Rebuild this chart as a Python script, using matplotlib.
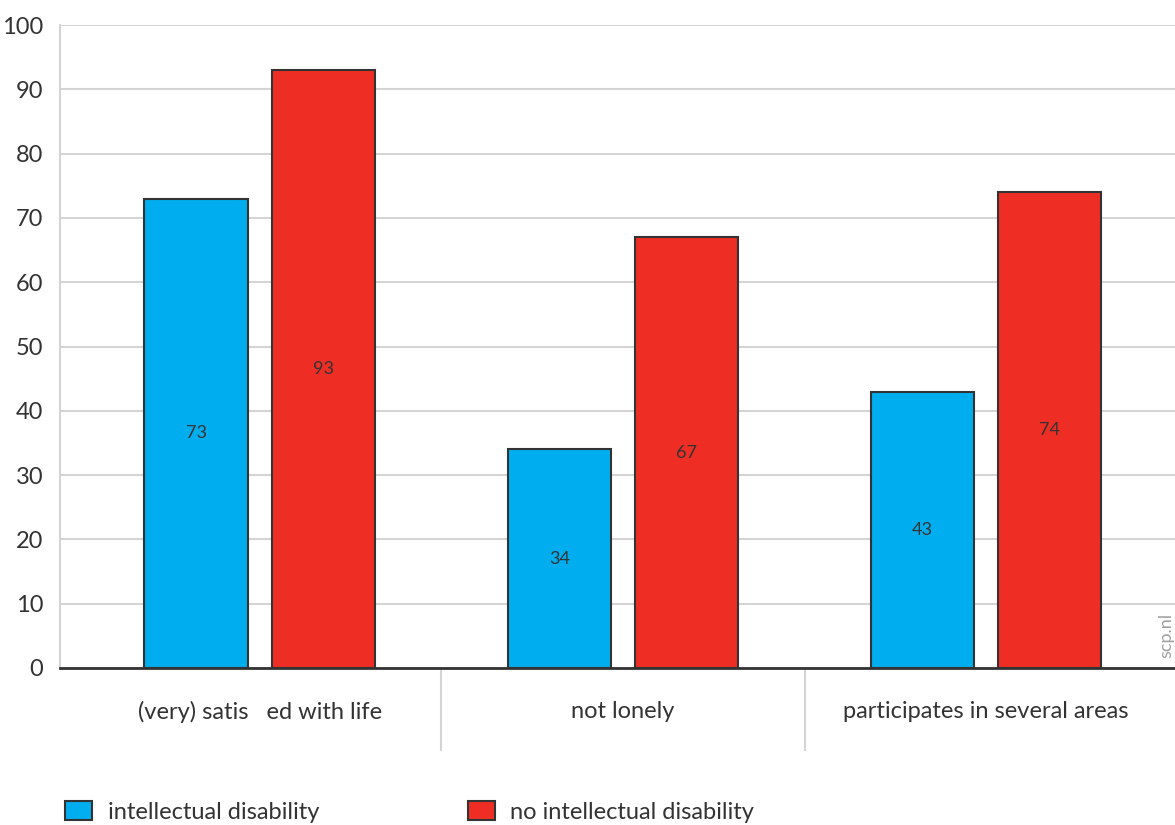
import numpy as np
import matplotlib.pyplot as plt
from matplotlib.patches import Patch

plt.rcParams['font.family'] = ['Lato', 'DejaVu Sans']

categories = ["(very) satis   ed with life", "not lonely", "participates in several areas"]
intellectual = [73, 34, 43]
no_intellectual = [93, 67, 74]
series_names = ["intellectual disability", "no intellectual disability"]

blue = "#00aeef"
red = "#ee2e24"
edge = "#333333"
grid = "#d4d4d4"
txt = "#333333"

fig = plt.figure(figsize=(11.75, 8.25), dpi=100)
ax = fig.add_axes([60/1175, 1 - 668/825, 1 - 60/1175, 643/825])

x = np.arange(len(categories))
w = 0.285
off = 0.175
b1 = ax.bar(x - off, intellectual, w, color=blue, edgecolor=edge, linewidth=1.5, zorder=3)
b2 = ax.bar(x + off, no_intellectual, w, color=red, edgecolor=edge, linewidth=1.5, zorder=3)

for bars, vals in [(b1, intellectual), (b2, no_intellectual)]:
    for b, v in zip(bars, vals):
        ax.text(b.get_x() + b.get_width() / 2, v / 2, str(v), ha="center", va="center",
                fontsize=13, color=txt, zorder=4)

ax.set_xlim(-0.55, 2.52)
ax.set_ylim(0, 100)
ax.set_yticks(range(0, 101, 10))
ax.yaxis.grid(True, color=grid, linewidth=1.5, zorder=0)
ax.set_axisbelow(True)

ax.set_xticks(x)
ax.set_xticklabels(categories)
ax.tick_params(axis="x", length=0, pad=24, labelsize=17, labelcolor=txt)
ax.tick_params(axis="y", length=0, pad=12, labelsize=17, labelcolor=txt)

for s in ["top", "right"]:
    ax.spines[s].set_visible(False)
ax.spines["left"].set_color(grid)
ax.spines["left"].set_linewidth(1.5)
ax.spines["bottom"].set_color(edge)
ax.spines["bottom"].set_linewidth(2)
ax.spines["bottom"].set_zorder(5)

# group separators under the axis
for xs in [0.5, 1.5]:
    ax.axvline(xs, ymin=-82/643, ymax=0, color=grid, linewidth=1.5, clip_on=False)

ax.text(0.992, 0.015, "scp.nl", transform=ax.transAxes, rotation=90, ha="center", va="bottom",
        fontsize=13, color="#a0a0a0")

handles = [Patch(facecolor=blue, edgecolor=edge, linewidth=1.5),
           Patch(facecolor=red, edgecolor=edge, linewidth=1.5)]
fig.legend(handles, series_names, loc="center left", bbox_to_anchor=(65/1175, 1 - 812/825),
           ncol=2, frameon=False, fontsize=17, handlelength=1.15, handleheight=0.85,
           handletextpad=0.65, columnspacing=6.3, labelcolor=txt,
           borderpad=0, borderaxespad=0)

fig.savefig("out.png", dpi=100)
